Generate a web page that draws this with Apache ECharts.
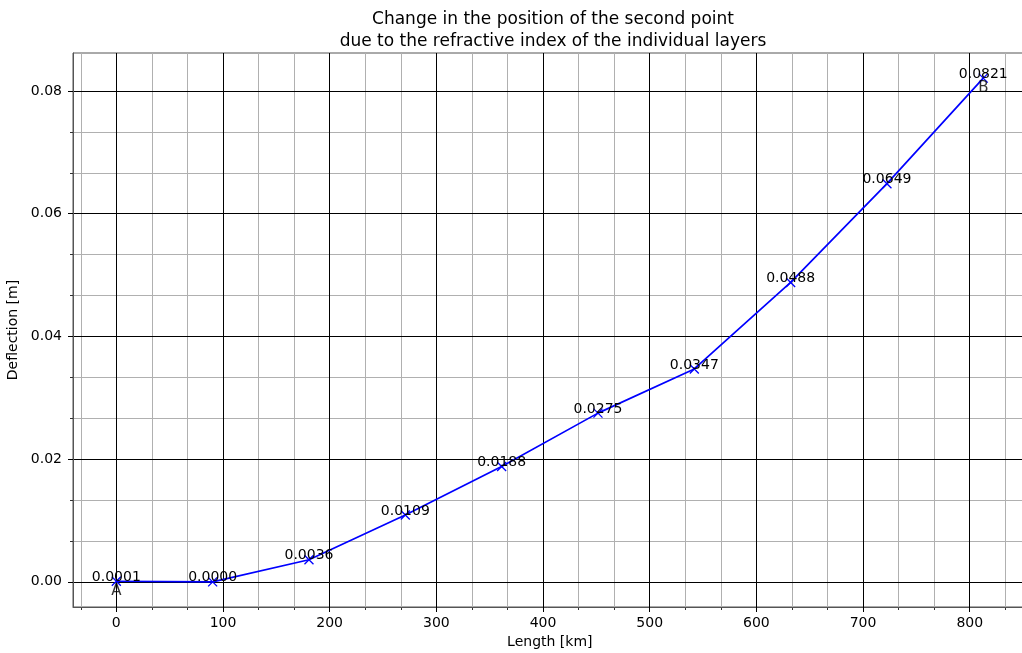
<!DOCTYPE html>
<html>
<head>
<meta charset="utf-8">
<script src="https://cdn.jsdelivr.net/npm/echarts@6/dist/echarts.min.js"></script>
<style>html,body{margin:0;padding:0;background:#fff}#c{width:1022px;height:653px}</style>
</head>
<body>
<div id="c"></div>
<script>
// Data
const lengthKm = [0, 90.3, 180.6, 270.9, 361.2, 451.5, 541.8, 632.1, 722.4, 812.7];
const deflection = [0.0001, 0.0000, 0.0036, 0.0109, 0.0188, 0.0275, 0.0347, 0.0488, 0.0649, 0.0821];
const pointNames = ['A', 'B'];
const pointIdx = [0, 9];
// Tick labels
const xMajorTicks = [0, 100, 200, 300, 400, 500, 600, 700, 800];
const xMinorTicks = [-33.333, 33.333, 66.667, 133.333, 166.667, 233.333, 266.667, 333.333, 366.667, 433.333, 466.667, 533.333, 566.667, 633.333, 666.667, 733.333, 766.667, 833.333];
const yMajorTicks = [0, 0.02, 0.04, 0.06, 0.08];
const yMinorTicks = [0.006667, 0.013333, 0.026667, 0.033333, 0.046667, 0.053333, 0.066667, 0.073333];
const titleText = 'Change in the position of the second point\ndue to the refractive index of the individual layers';

const FONT = 'DejaVu Sans';
const X_MIN = -40.6, X_MAX = 853.3, Y_MIN = -0.0041, Y_MAX = 0.0862;

const chart = echarts.init(document.getElementById('c'), null, {renderer: 'canvas'});
const lineData = lengthKm.map((x, i) => [x, deflection[i]]);
const annData = pointIdx.map((k, i) => ({value: [lengthKm[k], deflection[k]], name: pointNames[i]}));

const xBase = {type: 'value', min: X_MIN, max: X_MAX, position: 'bottom'};
const yBase = {type: 'value', min: Y_MIN, max: Y_MAX, position: 'left'};

chart.setOption({
  animation: false,
  backgroundColor: '#fff',
  title: {
    text: titleText, left: 548, top: 4, textAlign: 'center',
    textStyle: {fontFamily: FONT, fontSize: 17, fontWeight: 'normal', color: '#000', lineHeight: 22}
  },
  grid: {left: 73, right: -4.6, top: 53, bottom: 46, containLabel: false, outerBoundsMode: 'none',
    show: true, borderColor: '#555', borderWidth: 1, backgroundColor: 'transparent'},
  xAxis: [
    Object.assign({}, xBase, {
      z: 0,
      axisLine: {show: false, onZero: false},
      axisTick: {show: true, length: 3, customValues: xMinorTicks, lineStyle: {color: '#333'}},
      axisLabel: {show: false},
      splitLine: {show: true, lineStyle: {color: '#b0b0b0', width: 1}}
    }),
    Object.assign({}, xBase, {
      z: 1,
      name: 'Length [km]', nameLocation: 'middle', nameGap: 28,
      nameTextStyle: {fontFamily: FONT, fontSize: 14, color: '#000'},
      axisLine: {show: true, onZero: false, lineStyle: {color: '#555'}},
      axisTick: {show: true, length: 5, customValues: xMajorTicks, lineStyle: {color: '#000'}},
      axisLabel: {show: true, customValues: xMajorTicks, margin: 9, fontFamily: FONT, fontSize: 14, color: '#000'},
      splitLine: {show: true, lineStyle: {color: '#000', width: 1}}
    })
  ],
  yAxis: [
    Object.assign({}, yBase, {
      z: 0,
      axisLine: {show: false, onZero: false},
      axisTick: {show: true, length: 3, customValues: yMinorTicks, lineStyle: {color: '#333'}},
      axisLabel: {show: false},
      splitLine: {show: true, lineStyle: {color: '#b0b0b0', width: 1}}
    }),
    Object.assign({}, yBase, {
      z: 1,
      name: 'Deflection [m]', nameLocation: 'middle', nameGap: 50, nameRotate: 90,
      nameTextStyle: {fontFamily: FONT, fontSize: 14, color: '#000'},
      axisLine: {show: true, onZero: false, lineStyle: {color: '#555'}},
      axisTick: {show: true, length: 5, customValues: yMajorTicks, lineStyle: {color: '#000'}},
      axisLabel: {show: true, customValues: yMajorTicks, margin: 11, fontFamily: FONT, fontSize: 14, color: '#000',
        formatter: v => v.toFixed(2)},
      splitLine: {show: true, lineStyle: {color: '#000', width: 1}}
    })
  ],
  series: [
    {
      type: 'line', xAxisIndex: 1, yAxisIndex: 1, z: 3,
      data: lineData,
      lineStyle: {color: '#0000ff', width: 1.7},
      symbol: 'path://M0,0L10,10M10,0L0,10',
      symbolSize: 9,
      showAllSymbol: true,
      itemStyle: {color: 'none', borderColor: '#0000ff', borderWidth: 1.3},
      label: {
        show: true, position: 'top', distance: 0, offset: [0, 10],
        fontFamily: FONT, fontSize: 14, color: '#000',
        formatter: p => p.value[1].toFixed(4)
      },
      emphasis: {disabled: true}
    },
    {
      type: 'scatter', xAxisIndex: 1, yAxisIndex: 1, z: 4,
      data: annData, symbolSize: 0,
      label: {
        show: true, position: 'bottom', distance: 0, offset: [0, 2],
        fontFamily: FONT, fontSize: 15, color: '#000',
        formatter: p => p.name
      },
      emphasis: {disabled: true}
    }
  ]
});
</script>
</body>
</html>
